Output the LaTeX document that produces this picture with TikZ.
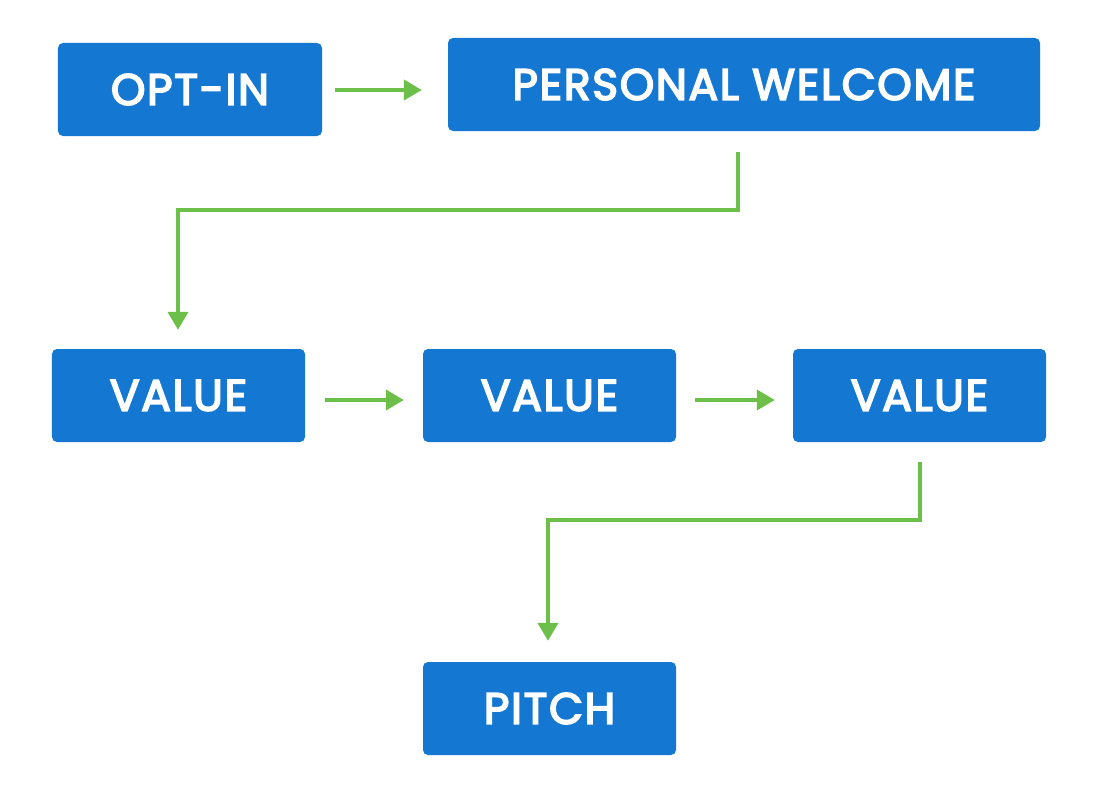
\documentclass[tikz,border=0pt]{standalone}
\usepackage{fontspec}
\setmainfont{Poppins}[BoldFont=Poppins,BoldFeatures={FakeBold=4,LetterSpace=4}]
\usetikzlibrary{arrows.meta,positioning}
\definecolor{BoxBlue}{RGB}{20,120,210}
\definecolor{FlowGreen}{RGB}{108,192,74}

\begin{document}
\begin{tikzpicture}[x=1bp,y=-1bp,every node/.style={font=\fontsize{44}{48}\selectfont\bfseries,align=center,text=white},box/.style={fill=BoxBlue,rounded corners=5bp,minimum height=93bp,inner sep=0pt},wide/.style={box,minimum width=253bp},arrow/.style={-{Triangle[length=18bp,width=20bp]},line width=4bp,FlowGreen}]
\fill[white] (0,0) rectangle (1099,794);
\node[box,minimum width=264bp] (optin) at (190,89.5) {OPT-IN};
\node[box,minimum width=592bp] (welcome) at (744,84.5) {PERSONAL WELCOME};
\node[wide] (value1) at (178.5,395.5) {VALUE};
\node[wide] (value2) at (549.5,395.5) {VALUE};
\node[wide] (value3) at (919.5,395.5) {VALUE};
\node[wide] (pitch) at (549.5,708.5) {PITCH};
\draw[arrow,shorten <=13bp,shorten >=26bp] ([yshift=-0.5bp]optin.east) -- ([yshift=-0.5bp]optin.east -| welcome.west);
\draw[arrow,shorten <=21bp,shorten >=19bp] ([xshift=-6bp]welcome.south) -- ++(0,79) -| ([xshift=-0.5bp]value1.north);
\draw[arrow,shorten <=20bp,shorten >=19bp] ([yshift=-4.5bp]value1.east) -- ([yshift=-4.5bp]value2.west);
\draw[arrow,shorten <=19bp,shorten >=18bp] ([yshift=-4.5bp]value2.east) -- ([yshift=-4.5bp]value3.west);
\draw[arrow,shorten <=20bp,shorten >=21bp] ([xshift=0.5bp]value3.south) -- ++(0,78) -| ([xshift=-1.5bp]pitch.north);
\end{tikzpicture}
\end{document}
